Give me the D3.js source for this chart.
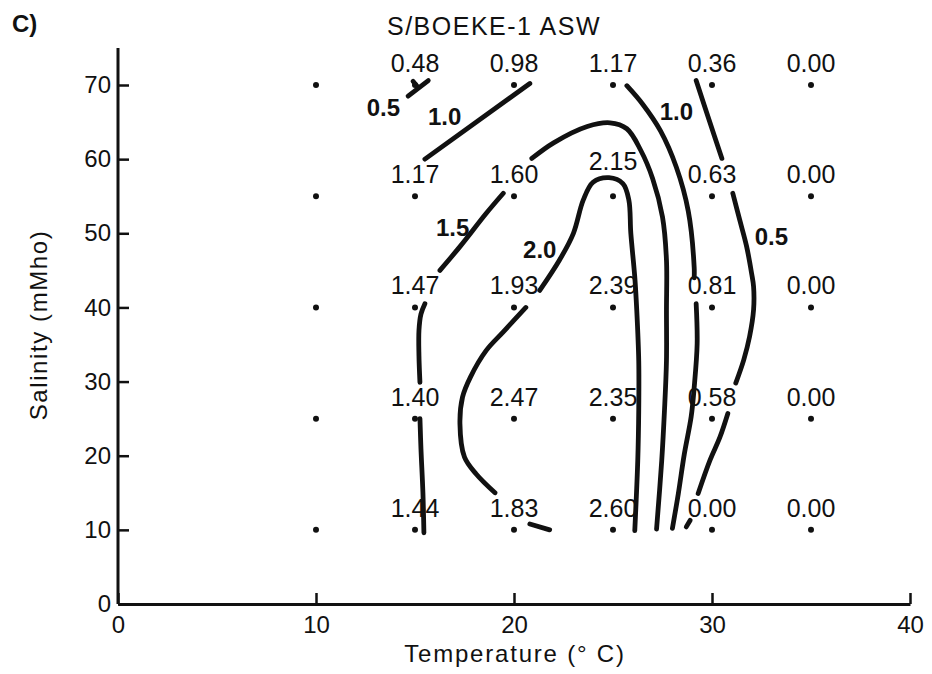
<!DOCTYPE html>
<html>
<head>
<meta charset="utf-8">
<script src="https://cdn.jsdelivr.net/npm/d3@7"></script>
<style>
  html, body { margin: 0; padding: 0; background: #fff; }
  svg { display: block; }
  text { font-family: "Liberation Sans", Arial, Helvetica, sans-serif; fill: #111; }
</style>
</head>
<body>
<svg id="chart" width="932" height="674"></svg>
<script>
// Sampling grid: temperature (°C) and salinity (mMho)
const temperatures = [10, 15, 20, 25, 30, 35];
const salinities = [10, 25, 40, 55, 70];

// Measured values per salinity row, ordered by temperature (no value at 10 °C)
const valuesS10 = [null, 1.44, 1.83, 2.60, 0.00, 0.00];
const valuesS25 = [null, 1.40, 2.47, 2.35, 0.58, 0.00];
const valuesS40 = [null, 1.47, 1.93, 2.39, 0.81, 0.00];
const valuesS55 = [null, 1.17, 1.60, 2.15, 0.63, 0.00];
const valuesS70 = [null, 0.48, 0.98, 1.17, 0.36, 0.00];
const valueRows = [valuesS10, valuesS25, valuesS40, valuesS55, valuesS70];

// Axis ticks
const xTicks = [0, 10, 20, 30, 40];
const yTicks = [0, 10, 20, 30, 40, 50, 60, 70];

// Hand-drawn isolines, as [temperature, salinity] pieces (breaks leave room for labels)
const isoline05 = [
  [[14.65, 68.5], [15.67, 70.6]],
  [[14.9, 70.5], [15.15, 69.7]],
  [[29.2, 70.6], [29.85, 65.3], [30.5, 60.1]],
  [[31.05, 55.4], [31.4, 51.8], [31.75, 48.2], [32.0, 44.6], [32.1, 42.8], [32.1, 39.7], [31.9, 36.1], [31.6, 32.9], [31.2, 29.8]],
  [[30.8, 25.7], [30.4, 22.5], [29.9, 19.4], [29.3, 14.9]],
  [[28.9, 11.3], [28.7, 10.4]]
];
const isoline10 = [
  [[15.5, 60.0], [20.8, 70.2]],
  [[25.7, 69.9], [26.5, 67.4], [27.4, 63.8], [28.2, 58.9], [28.8, 53.0], [29.1, 45.4], [29.1, 44.0]],
  [[29.2, 40.5], [29.25, 35.1], [29.1, 29.2], [28.95, 25.3], [28.6, 20.2], [28.3, 14.9], [28.0, 10.2]]
];
const isoline15 = [
  [[15.45, 9.6], [15.4, 15.0], [15.3, 21.0], [15.25, 25.0]],
  [[15.25, 29.9], [15.2, 33.5], [15.2, 36.9], [15.3, 39.1], [15.5, 40.5]],
  [[16.26, 45.0], [17.27, 48.2], [18.6, 52.7], [19.46, 55.4]],
  [[20.9, 60.1], [22.0, 62.2], [23.7, 64.4], [24.85, 64.9], [25.7, 64.1], [26.4, 61.2], [27.0, 57.4], [27.5, 52.2], [27.7, 46.4], [27.7, 39.6], [27.7, 32.8], [27.6, 26.1], [27.46, 19.3], [27.2, 10.1]]
];
const isoline20 = [
  [[19.04, 15.0], [18.1, 17.5], [17.5, 19.8], [17.27, 24.3], [17.4, 27.9], [17.8, 30.6], [18.6, 34.2], [19.46, 36.7], [20.6, 40.0]],
  [[21.3, 42.3], [22.3, 46.4], [23.0, 50.0], [23.5, 54.5], [24.0, 56.9], [24.8, 57.5], [25.5, 56.7], [25.8, 54.5], [25.9, 50.0], [26.1, 44.1], [26.2, 39.6], [26.3, 32.8], [26.3, 26.1], [26.25, 19.3], [26.1, 9.9]],
  [[20.8, 10.8], [21.8, 10.0]]
];

// Isoline labels: text and [temperature, salinity] centre
const isolineLabels = ["0.5", "1.0", "1.0", "1.5", "2.0", "0.5"];
const isolineLabelAt = [[13.4, 66.9], [16.5, 65.8], [28.2, 66.4], [16.9, 50.8], [21.3, 47.8], [33.0, 49.6]];

const svg = d3.select("#chart");

const x = d3.scaleLinear().domain([0, 40]).range([118, 910]);
const y = d3.scaleLinear().domain([0, 70]).range([604, 85]);

// Axes
const xAxis = d3.axisBottom(x).tickValues(xTicks).tickFormat(d3.format("d"))
  .tickSizeInner(-11).tickSizeOuter(0).tickPadding(12);
const yAxis = d3.axisLeft(y).tickValues(yTicks).tickFormat(d3.format("d"))
  .tickSizeInner(-11).tickSizeOuter(0).tickPadding(7);

const gx = svg.append("g").attr("transform", `translate(0,${y(0)})`).call(xAxis);
const gy = svg.append("g").attr("transform", `translate(${x(0)},0)`).call(yAxis);

[gx, gy].forEach(g => {
  g.select(".domain").attr("stroke", "#111").attr("stroke-width", 3);
  g.selectAll(".tick line").attr("stroke", "#111").attr("stroke-width", 2.5);
  g.selectAll(".tick text").attr("font-size", 24).attr("fill", "#111")
    .attr("font-family", "'Liberation Sans', Arial, sans-serif");
});
// Vertical axis runs up past the last tick
gy.select(".domain").attr("d", `M0,${y(0)}V${y(75)}`);

// Isolines
const line = d3.line().x(d => x(d[0])).y(d => y(d[1])).curve(d3.curveCatmullRom.alpha(0.5));
const allIsolines = [isoline05, isoline10, isoline15, isoline20];
const gLines = svg.append("g");
allIsolines.forEach(pieces => {
  pieces.forEach(piece => {
    gLines.append("path").attr("d", line(piece))
      .attr("fill", "none").attr("stroke", "#111").attr("stroke-width", 4.8)
      .attr("stroke-linecap", "round").attr("stroke-linejoin", "round");
  });
});

// Grid points and their values
const points = [];
salinities.forEach((s, i) => {
  temperatures.forEach((t, j) => points.push({ t, s, v: valueRows[i][j] }));
});
svg.append("g").selectAll("circle").data(points).join("circle")
  .attr("cx", d => x(d.t)).attr("cy", d => y(d.s)).attr("r", 3).attr("fill", "#111");
// The value at the top of the 2.0 loop sits higher so the isoline stays clear of it
const labelLift = d => (d.t === 25 && d.s === 55) ? 26 : 13;
svg.append("g").selectAll("text").data(points.filter(d => d.v !== null)).join("text")
  .attr("x", d => x(d.t)).attr("y", d => y(d.s) - labelLift(d))
  .attr("text-anchor", "middle").attr("font-size", 25)
  .text(d => d.v.toFixed(2));

// Isoline labels
svg.append("g").selectAll("text").data(isolineLabels).join("text")
  .attr("x", (d, i) => x(isolineLabelAt[i][0]))
  .attr("y", (d, i) => y(isolineLabelAt[i][1]) + 8.5)
  .attr("text-anchor", "middle").attr("font-size", 24).attr("font-weight", "bold")
  .text(d => d);

// Titles
svg.append("text").attr("x", 12).attr("y", 32).attr("font-size", 24).attr("font-weight", "bold").text("C)");
svg.append("text").attr("x", 494).attr("y", 35).attr("text-anchor", "middle")
  .attr("font-size", 25).attr("letter-spacing", 1.5).text("S/BOEKE-1 ASW");
svg.append("text").attr("x", 515).attr("y", 662).attr("text-anchor", "middle")
  .attr("font-size", 24).attr("letter-spacing", 1.8).text("Temperature (° C)");
svg.append("text").attr("transform", "translate(47,325) rotate(-90)").attr("text-anchor", "middle")
  .attr("font-size", 24).attr("letter-spacing", 1.6).text("Salinity (mMho)");
</script>
</body>
</html>
